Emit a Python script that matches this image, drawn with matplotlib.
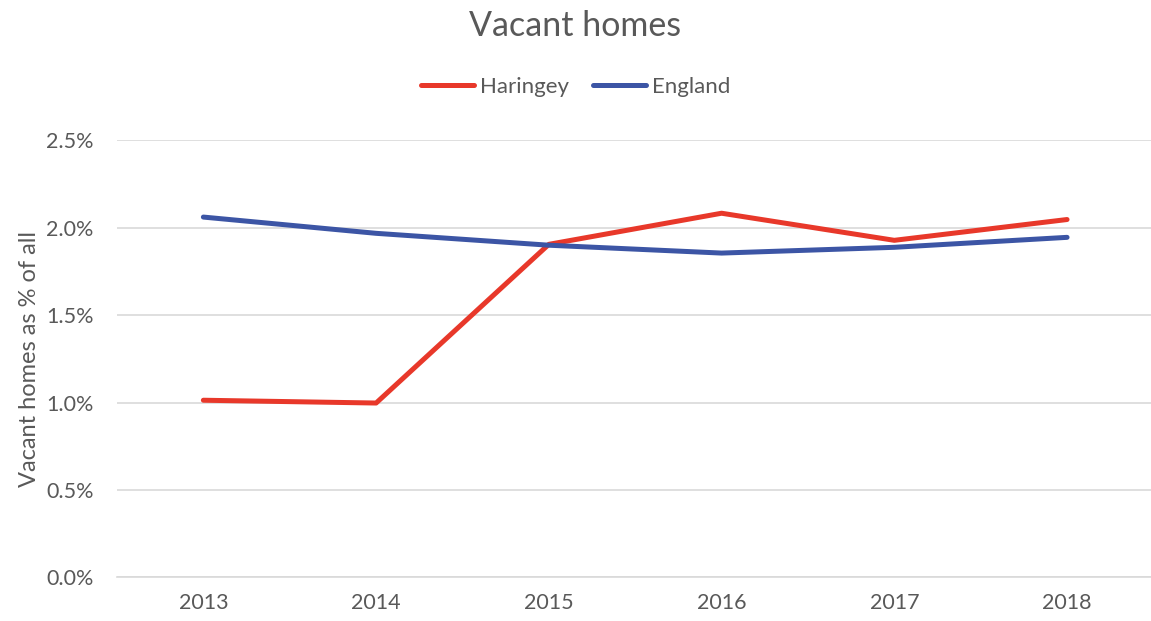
import matplotlib.pyplot as plt
from matplotlib.ticker import FuncFormatter

plt.rcParams['font.family'] = ['Lato', 'DejaVu Sans']

# Data
years = ['2013', '2014', '2015', '2016', '2017', '2018']
haringey = [1.013, 0.997, 1.905, 2.083, 1.928, 2.047]
england = [2.061, 1.968, 1.900, 1.855, 1.888, 1.945]

text_grey = '#595959'
red = '#E8382A'
blue = '#3C55A5'

fig = plt.figure(figsize=(11.51, 6.21), dpi=100)
ax = fig.add_axes([117 / 1151, 0.0704, 1 - 117 / 1151, 0.774 - 0.0704])

x = range(len(years))
ax.plot(x, haringey, color=red, linewidth=3.6, solid_capstyle='round', solid_joinstyle='round', label='Haringey', zorder=3)
ax.plot(x, england, color=blue, linewidth=3.6, solid_capstyle='round', solid_joinstyle='round', label='England', zorder=3)

ax.set_xlim(-0.5, 5.486)
ax.set_ylim(0, 2.5)
ax.set_yticks([0, 0.5, 1.0, 1.5, 2.0, 2.5])
ax.yaxis.set_major_formatter(FuncFormatter(lambda v, p: '%.1f%%' % v))
ax.set_xticks(list(x))
ax.set_xticklabels(years)

ax.grid(axis='y', color='#d9d9d9', linewidth=1.2)
ax.set_axisbelow(True)
for s in ['top', 'right', 'left']:
    ax.spines[s].set_visible(False)
ax.spines['bottom'].set_color('#d9d9d9')
ax.spines['bottom'].set_linewidth(1.2)
ax.tick_params(axis='both', length=0, labelsize=15.5, colors=text_grey)
ax.tick_params(axis='x', pad=11)
ax.tick_params(axis='y', pad=17)

ax.set_ylabel('Vacant homes as % of all', fontsize=17, color=text_grey, labelpad=4)

fig.text(0.5, 0.958, 'Vacant homes', ha='center', va='center', fontsize=24.5, color=text_grey)

leg = fig.legend(loc='center', bbox_to_anchor=(0.5, 1 - 87 / 621), ncol=2, frameon=False,
                 fontsize=16, handlelength=2.4, handletextpad=0.25, columnspacing=1.1)
for t in leg.get_texts():
    t.set_color(text_grey)

fig.savefig('out.png', dpi=100)
